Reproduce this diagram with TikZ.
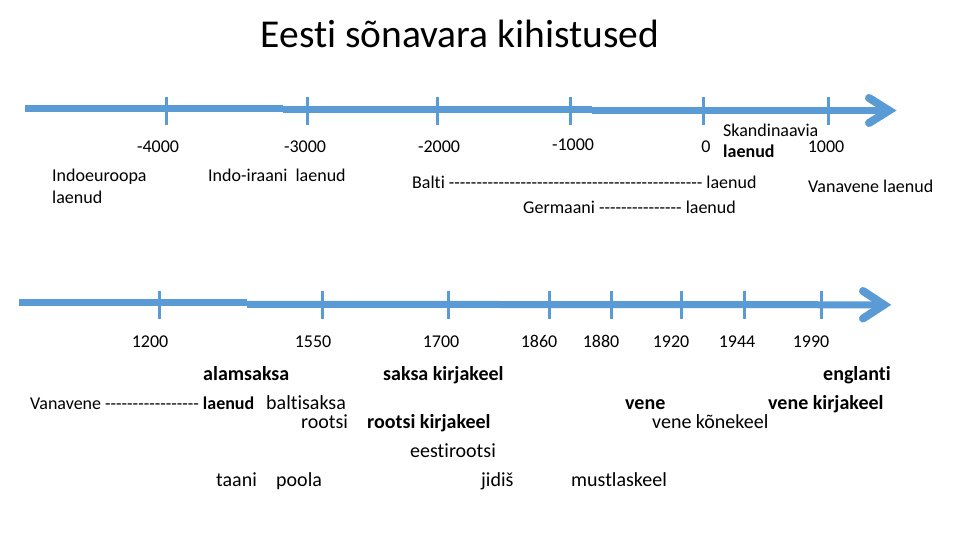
\documentclass[tikz,border=0pt]{standalone}
\usepackage{fontspec}
\setmainfont{Carlito}[Ligatures={TeXOff,NoCommon}]
\definecolor{axisblue}{HTML}{5B9BD5}
\begin{document}
\begin{tikzpicture}[x=1pt,y=-1pt,
  axis/.style={axisblue,line width=7pt},
  tickmark/.style={axisblue,line width=3pt},
  head/.style={axisblue,line width=8pt,line cap=round,line join=miter},
  lbl/.style={inner sep=0pt,font=\fontsize{18}{21}\selectfont},
  lb/.style={lbl,anchor=base west},
  lbb/.style={inner sep=0pt,anchor=base west,font=\fontsize{18}{21}\selectfont\bfseries},
  lbig/.style={inner sep=0pt,anchor=base west,font=\fontsize{20}{24}\selectfont},
  lbigb/.style={inner sep=0pt,anchor=base west,font=\fontsize{20}{24}\selectfont\bfseries},
  yr/.style={lbl,anchor=base}]
\useasboundingbox (0,0) rectangle (960,540);
% title
\node[inner sep=0pt,anchor=base,font=\fontsize{39.5}{44}\selectfont] (title) at (460,48) {Eesti sõnavara kihistused};
% timeline 1
\coordinate (a1) at (25,108.5); \coordinate (a2) at (283,108.5);
\coordinate (a3) at (283,110); \coordinate (a4) at (592,110);
\coordinate (a5) at (592,110.5); \coordinate (a6) at (889,110.5);
\draw[axis] (a1) -- (a2);
\draw[axis] (a3) -- (a4);
\draw[axis] (a5) -- (a6);
\draw[head] (869,98) -- (a6) -- (869,123);
\foreach \x in {166,307,437,570.5,703,828}
  \draw[tickmark] (\x,97) -- (\x,125.5);
% timeline 2
\coordinate (b1) at (19,302.5); \coordinate (b2) at (247,302.5);
\coordinate (b3) at (247,304.3); \coordinate (b4) at (884,304.8);
\draw[axis] (b1) -- (b2);
\draw[axis] (b3) -- (b4);
\draw[head] (863,291) -- (b4) -- (863,318.5);
\foreach \x in {159,322.5,448,549,611,681,744,821}
  \draw[tickmark] (\x,291) -- (\x,319);
% labels line 1
\node[yr] (m4000) at (158,153) {-4000};
\node[yr] (m3000) at (305,153) {-3000};
\node[yr] (m2000) at (439,153) {-2000};
\node[yr] (m1000) at (573,151) {-1000};
\node[yr] (y0) at (706,153) {0};
\node[lb] (skand) at (723,137) {Skandinaavia};
\node[lbb] (skandl) at (723,158) {laenud};
\node[yr] (y1000) at (826,153) {1000};
\node[lb] (indoeu) at (52,182) {Indoeuroopa};
\node[lb] (indoeu2) at (52,203) {laenud};
\node[lb] (indoir) at (208,182) {Indo-iraani\ \ laenud};
\node[lb] (balti) at (412,189) {Balti ---------------------------------------------- laenud};
\node[lb] (germ) at (523,213) {Germaani --------------- laenud};
\node[lb] (vanav1) at (808,193) {Vanavene laenud};
% labels line 2
\node[yr] (y1200) at (150,347) {1200};
\node[yr] (y1550) at (313,347) {1550};
\node[yr] (y1700) at (441,347) {1700};
\node[yr] (y1860) at (539,347) {1860};
\node[yr] (y1880) at (601,347) {1880};
\node[yr] (y1920) at (671,347) {1920};
\node[yr] (y1944) at (737,347) {1944};
\node[yr] (y1990) at (811,347) {1990};
\node[lbigb] (alams) at (203,380.5) {alamsaksa};
\node[lbigb] (saksak) at (383,380.5) {saksa kirjakeel};
\node[lbigb] (engl) at (823,380.5) {englanti};
\node[lb] (vanav2) at (30,409) {Vanavene ----------------- \textbf{laenud}};
\node[lbig] (baltis) at (266,409.5) {baltisaksa};
\node[lbig] (rootsi) at (301,428.5) {rootsi};
\node[lbigb] (rootsik) at (367,428.5) {rootsi kirjakeel};
\node[lbig] (eestir) at (410,457.5) {eestirootsi};
\node[lbig] (taani) at (216,486.5) {taani};
\node[lbig] (poola) at (276,486.5) {poola};
\node[lbig] (jidis) at (481,486.5) {jidiš};
\node[lbig] (mustl) at (571,486.5) {mustlaskeel};
\node[lbigb] (vene) at (625,409.5) {vene};
\node[lbigb] (venek) at (768,409.5) {vene kirjakeel};
\node[lbig] (venekn) at (652,428.5) {vene kõnekeel};
\end{tikzpicture}
\end{document}
